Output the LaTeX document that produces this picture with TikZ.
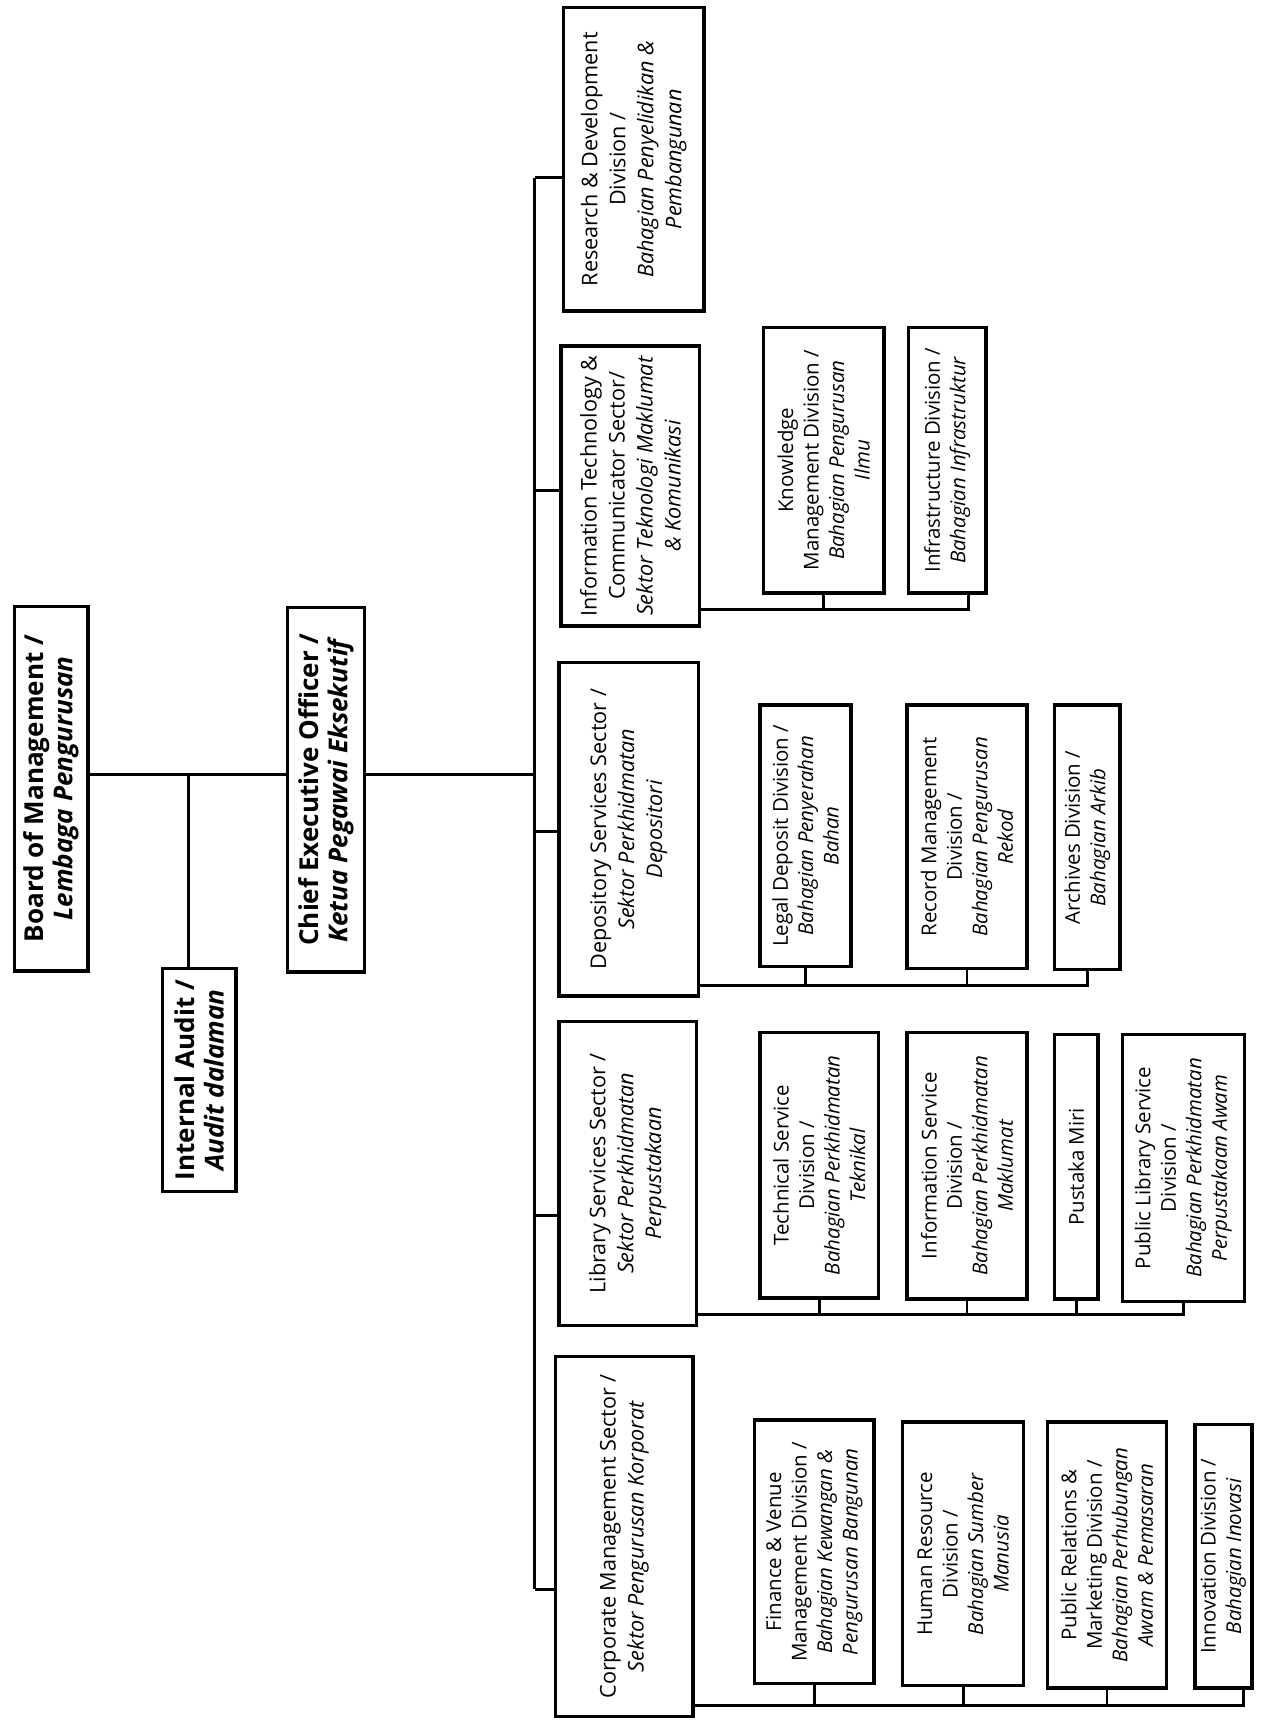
\documentclass[tikz,border=0pt]{standalone}
\usepackage{fontspec}
\setmainfont{Open Sans}
\usepackage{tikz}

\tikzset{
  unit/.style={draw, line width=1.8pt, rotate=90, align=center, inner sep=2pt,
    font=\fontsize{10.6}{13.2}\selectfont},
  sector/.style={unit, font=\fontsize{11.2}{14.5}\selectfont},
  headunit/.style={unit, font=\bfseries\fontsize{13.5}{15}\selectfont},
  link/.style={line width=1.5pt},
}

\begin{document}
\begin{tikzpicture}[x=0.02cm, y=-0.02cm]
    \useasboundingbox (0,0) rectangle (1151,1568);
    % top level
    \node[headunit, minimum width=6.64cm, minimum height=1.34cm] (board) at (46.5,718) {Board of Management /\\\textit{Lembaga Pengurusan}};
    \node[headunit, minimum width=6.64cm, minimum height=1.40cm] (ceo) at (297,719) {Chief Executive Officer /\\\textit{Ketua Pegawai Eksekutif}};
    \node[headunit, minimum width=4.06cm, minimum height=1.34cm] (ia) at (181.5,983.5) {Internal Audit /\\\textit{Audit dalaman}};
    % sectors
    \node[sector, minimum width=5.52cm, minimum height=2.56cm] (rnd) at (577,145) {Research \& Development\\Division /\\\textit{Bahagian Penyelidikan \&}\\\textit{Pembangunan}};
    \node[sector, minimum width=5.10cm, minimum height=2.52cm] (ict) at (574,442.5) {Information Technology \&\\Communicator Sector/\\\textit{Sektor Teknologi Maklumat}\\\textit{\& Komunikasi}};
    \node[sector, minimum width=6.08cm, minimum height=2.54cm] (dep) at (572.5,755) {Depository Services Sector /\\\textit{Sektor Perkhidmatan}\\\textit{Depositori}};
    \node[sector, minimum width=5.54cm, minimum height=2.50cm] (lib) at (571.5,1068.5) {Library Services Sector /\\\textit{Sektor Perkhidmatan}\\\textit{Perpustakaan}};
    \node[sector, minimum width=6.56cm, minimum height=2.50cm] (corp) at (568.5,1399) {Corporate Management Sector /\\\textit{Sektor Pengurusan Korporat}};
    % divisions
    \node[unit, minimum width=4.84cm, minimum height=2.20cm] (km) at (750,419) {Knowledge\\Management Division /\\\textit{Bahagian Pengurusan}\\\textit{Ilmu}};
    \node[unit, minimum width=4.84cm, minimum height=1.42cm] (infra) at (862.5,419) {Infrastructure Division /\\\textit{Bahagian Infrastruktur}};
    \node[unit, minimum width=4.76cm, minimum height=1.66cm] (legal) at (733.5,761) {Legal Deposit Division /\\\textit{Bahagian Penyerahan}\\\textit{Bahan}};
    \node[unit, minimum width=4.80cm, minimum height=2.18cm] (record) at (880.5,762) {Record Management\\Division /\\\textit{Bahagian Pengurusan}\\\textit{Rekod}};
    \node[unit, minimum width=4.82cm, minimum height=1.20cm] (arkib) at (990,762.5) {Archives Division /\\\textit{Bahagian Arkib}};
    \node[unit, minimum width=4.84cm, minimum height=2.16cm] (tech) at (746,1061) {Technical Service\\Division /\\\textit{Bahagian Perkhidmatan}\\\textit{Teknikal}};
    \node[unit, minimum width=4.86cm, minimum height=2.18cm] (info) at (880.5,1061.5) {Information Service\\Division /\\\textit{Bahagian Perkhidmatan}\\\textit{Maklumat}};
    \node[unit, minimum width=4.82cm, minimum height=0.80cm] (miri) at (980,1062.5) {Pustaka Miri};
    \node[unit, minimum width=4.86cm, minimum height=2.22cm] (publib) at (1077.5,1063.5) {Public Library Service\\Division /\\\textit{Bahagian Perkhidmatan}\\\textit{Perpustakaan Awam}};
    \node[unit, minimum width=4.80cm, minimum height=2.18cm] (fin) at (741.5,1413) {Finance \& Venue\\Management Division /\\\textit{Bahagian Kewangan \&}\\\textit{Pengurusan Bangunan}};
    \node[unit, minimum width=4.80cm, minimum height=2.20cm] (hr) at (877,1415) {Human Resource\\Division /\\\textit{Bahagian Sumber}\\\textit{Manusia}};
    \node[unit, minimum width=4.84cm, minimum height=2.16cm] (pr) at (1008,1416) {Public Relations \&\\Marketing Division /\\\textit{Bahagian Perhubungan}\\\textit{Awam \& Pemasaran}};
    \node[unit, minimum width=4.80cm, minimum height=1.04cm] (innov) at (1114,1417) {Innovation Division /\\\textit{Bahagian Inovasi}};
    % top links
    \coordinate (jTop) at (172,705);
    \coordinate (busA) at (487,162);
    \coordinate (busB) at (487,1447);
    \draw[link] (jTop -| board.south) -- (jTop -| ceo.north);
    \draw[link] (jTop) -- (jTop |- ia.east);
    \draw[link] (jTop -| ceo.south) -- (jTop -| busA);
    % main bus
    \coordinate (jIct) at (487,447);
    \coordinate (jDep) at (487,757);
    \coordinate (jLib) at (487,1107);
    \draw[link] (busA) -- (busB);
    \draw[link] (busA) -- (busA -| rnd.north);
    \draw[link] (jIct) -- (jIct -| ict.north);
    \draw[link] (jDep) -- (jDep -| dep.north);
    \draw[link] (jLib) -- (jLib -| lib.north);
    \draw[link] (busB) -- (busB -| corp.north);
    % ICT divisions
    \coordinate (endIct) at (882,555);
    \draw[link] (endIct -| ict.south) -- (endIct) -- (endIct |- infra.west);
    \draw[link] (km.west) -- (km.west |- endIct);
    % depository divisions
    \coordinate (endDep) at (990,897);
    \draw[link] (endDep -| dep.south) -- (endDep) -- (endDep |- arkib.west);
    \draw[link] (legal.west) -- (legal.west |- endDep);
    \draw[link] (record.west) -- (record.west |- endDep);
    % library divisions
    \coordinate (endLib) at (1077.5,1197);
    \draw[link] (endLib -| lib.south) -- (endLib) -- (endLib |- publib.west);
    \draw[link] (tech.west) -- (tech.west |- endLib);
    \draw[link] (info.west) -- (info.west |- endLib);
    \draw[link] (miri.west) -- (miri.west |- endLib);
    % corporate divisions
    \coordinate (endCorp) at (1132,1553);
    \draw[link] (endCorp -| corp.south) -- (endCorp) -- (endCorp |- innov.west);
    \draw[link] (fin.west) -- (fin.west |- endCorp);
    \draw[link] (hr.west) -- (hr.west |- endCorp);
    \draw[link] (pr.west) -- (pr.west |- endCorp);
\end{tikzpicture}
\end{document}
